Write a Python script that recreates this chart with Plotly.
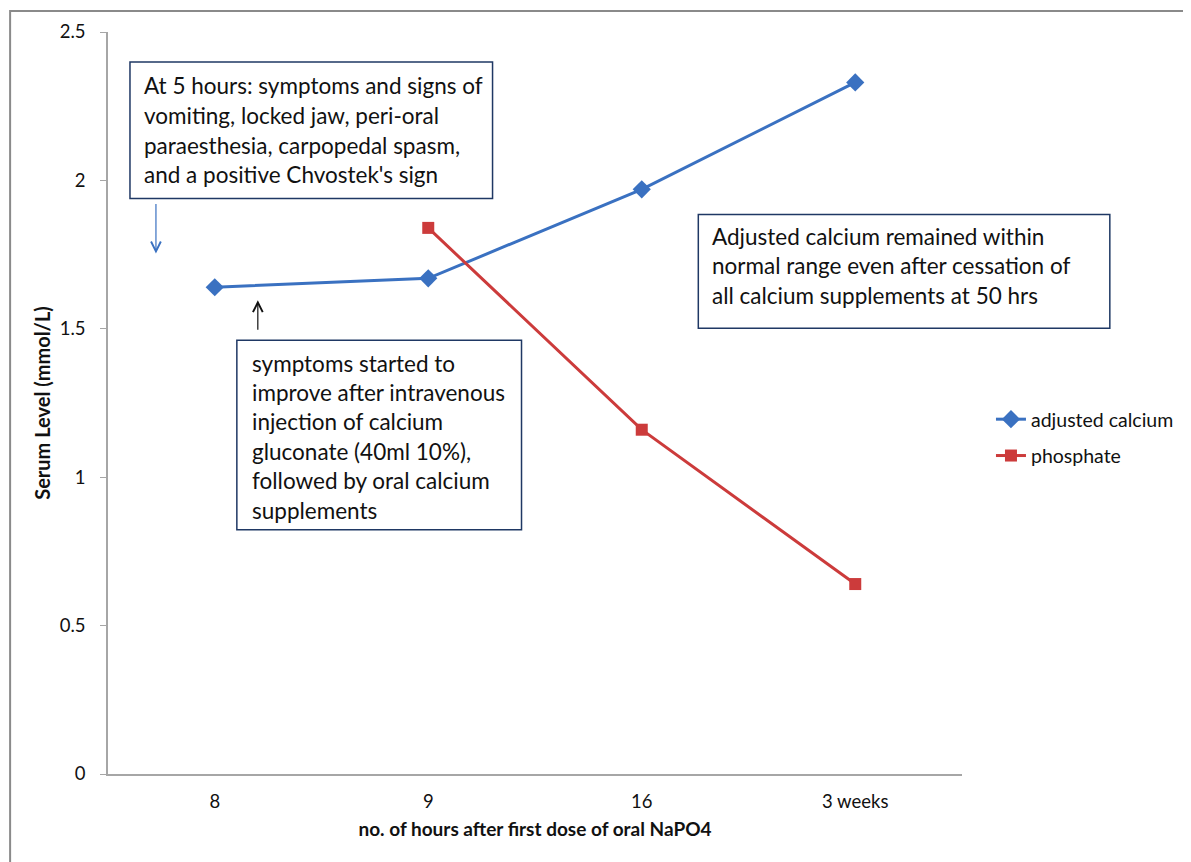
import plotly.graph_objects as go

categories = ["8", "9", "16", "3 weeks"]
calcium = [1.64, 1.67, 1.97, 2.33]
phosphate = [None, 1.84, 1.16, 0.64]
y_ticks = [0, 0.5, 1, 1.5, 2, 2.5]
y_tick_labels = ["0", "0.5", "1", "1.5", "2", "2.5"]

box1_lines = ["At 5 hours: symptoms and signs of",
              "vomiting, locked jaw, peri-oral",
              "paraesthesia, carpopedal spasm,",
              "and a positive Chvostek's sign"]
box2_lines = ["symptoms started to",
              "improve after intravenous",
              "injection of calcium",
              "gluconate (40ml 10%),",
              "followed by oral calcium",
              "supplements"]
box3_lines = ["Adjusted calcium remained within",
              "normal range even after cessation of",
              "all calcium supplements at 50 hrs"]

FONT = "Lato"
OFF = 8  # page body margin
W, H = 1191 - OFF, 862 - OFF
L, R, T, B = 108, 963, 30, 774  # plot area in page pixels


def px(x):
    return (x - L) / (R - L)


def py(y):
    return (B - y) / (B - T)


BLUE = "#3A71C1"
RED = "#CC3B3B"

fig = go.Figure()
fig.add_trace(go.Scatter(
    x=categories, y=calcium, name="adjusted calcium", mode="lines+markers",
    legendgroup="a",
    line=dict(color=BLUE, width=3),
    marker=dict(symbol="diamond", size=14, color=BLUE)))
fig.add_trace(go.Scatter(
    x=categories, y=phosphate, name="phosphate", mode="lines+markers",
    legendgroup="b",
    line=dict(color=RED, width=3),
    marker=dict(symbol="square", size=12, color=RED)))

shapes = []
shapes.append(dict(type="rect", xref="paper", yref="paper",
                   x0=px(10), x1=px(1189), y0=py(900), y1=py(9),
                   line=dict(color="#8a8a8a", width=2), layer="below"))
BOXC = "#1F3864"
for (x0, y0, x1, y1) in [(130, 60, 493, 197), (237, 339, 522, 529), (699, 213, 1111, 327)]:
    shapes.append(dict(type="rect", xref="paper", yref="paper",
                       x0=px(x0), x1=px(x1), y0=py(y1), y1=py(y0),
                       line=dict(color=BOXC, width=1.5), fillcolor="white", layer="above"))

annotations = []


def add_lines(lines, xleft, ytop, step):
    for i, t in enumerate(lines):
        annotations.append(dict(text=t, xref="paper", yref="paper",
                                x=px(xleft), y=py(ytop + i * step),
                                xanchor="left", yanchor="middle", showarrow=False,
                                font=dict(family=FONT, size=22.5, color="#111111")))


add_lines(box1_lines, 142, 84, 29.7)
add_lines(box2_lines, 250, 362, 29.5)
add_lines(box3_lines, 711, 235, 29.5)

annotations.append(dict(xref="paper", yref="paper", x=px(156), y=py(252), text="",
                        showarrow=True, ax=0, ay=-51, arrowhead=5, arrowsize=1.6,
                        arrowwidth=1.2, arrowcolor=BLUE))
annotations.append(dict(xref="paper", yref="paper", x=px(258), y=py(299), text="",
                        showarrow=True, ax=0, ay=31, arrowhead=5, arrowsize=1.6,
                        arrowwidth=1.2, arrowcolor="#111111"))

fig.update_layout(
    width=W, height=H,
    margin=dict(l=L - OFF, r=W - (R - OFF), t=T - OFF, b=H - (B - OFF)),
    paper_bgcolor="white", plot_bgcolor="white",
    font=dict(family=FONT, size=18, color="#111111"),
    showlegend=True,
    legend=dict(x=px(992), y=py(399), xanchor="left", yanchor="top",
                font=dict(family=FONT, size=19.5, color="#111111"),
                bgcolor="rgba(0,0,0,0)", tracegroupgap=8, traceorder="grouped"),
    shapes=shapes, annotations=annotations,
    xaxis=dict(type="category", range=[-0.5, 3.5], showgrid=False,
               showline=True, linecolor="#A6A6A6", linewidth=1.5, ticks="",
               ticklabelstandoff=10,
               tickfont=dict(family=FONT, size=18.5, color="#111111"),
               title=dict(text="<b>no. of hours after first dose of oral NaPO4</b>",
                          font=dict(family=FONT, size=19, color="#111111"), standoff=12),
               zeroline=False),
    yaxis=dict(range=[0, 2.5], tickvals=y_ticks, ticktext=y_tick_labels, showgrid=False,
               showline=True, linecolor="#A6A6A6", linewidth=1.5,
               ticks="outside", ticklen=6, tickcolor="#A6A6A6", ticklabelstandoff=11,
               tickfont=dict(family=FONT, size=18.5, color="#111111"),
               title=dict(text="<b>Serum Level (mmol/L)</b>",
                          font=dict(family=FONT, size=20, color="#111111"), standoff=4),
               zeroline=False),
)

fig.write_html("out.html")
